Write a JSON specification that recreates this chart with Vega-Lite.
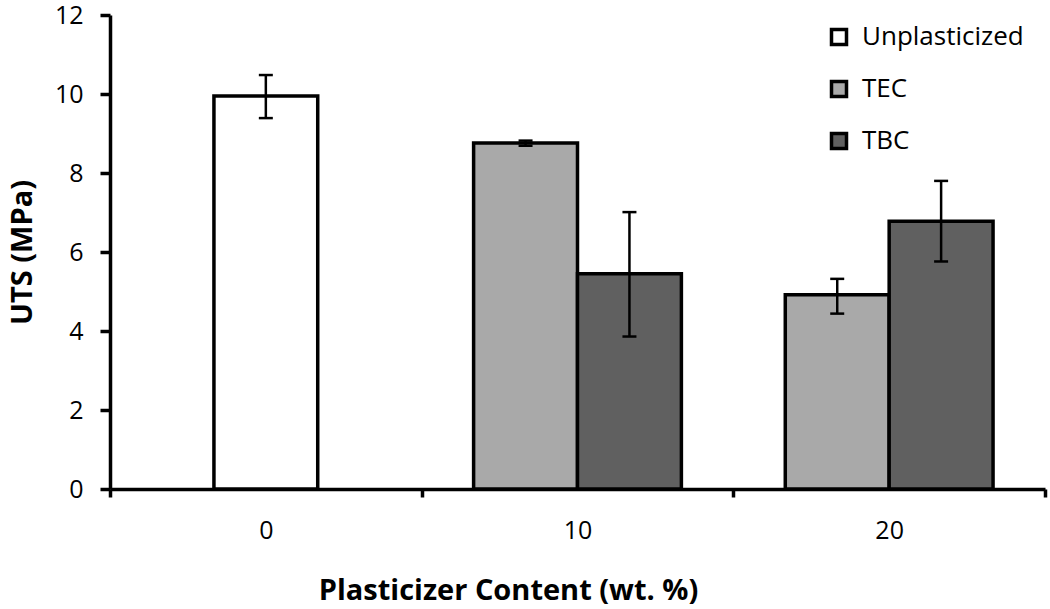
{
  "$schema": "https://vega.github.io/schema/vega-lite/v6.json",
  "autosize": {"type": "none"},
  "padding": {"left": 110, "top": 15, "right": 5, "bottom": 120},
  "width": 935,
  "height": 474,
  "background": "white",
  "config": {
    "view": {"stroke": null},
    "font": "Open Sans",
    "axis": {
      "grid": false,
      "domainColor": "black",
      "domainWidth": 3.5,
      "tickColor": "black",
      "tickWidth": 3.5,
      "labelColor": "black",
      "titleColor": "black",
      "labelFont": "Open Sans",
      "titleFont": "Open Sans",
      "labelFontSize": 25,
      "titleFontSize": 29,
      "titleFontWeight": "bold"
    }
  },
  "data": {
    "values": [
      {"content": "0", "series": "Unplasticized", "uts": 9.95, "lo": 9.39, "hi": 10.48},
      {"content": "10", "series": "TEC", "uts": 8.76, "lo": 8.69, "hi": 8.82},
      {"content": "10", "series": "TBC", "uts": 5.45, "lo": 3.86, "hi": 7.01},
      {"content": "20", "series": "TEC", "uts": 4.92, "lo": 4.44, "hi": 5.32},
      {"content": "20", "series": "TBC", "uts": 6.78, "lo": 5.76, "hi": 7.8}
    ]
  },
  "encoding": {
    "x": {
      "field": "content",
      "type": "nominal",
      "sort": ["0", "10", "20"],
      "scale": {"paddingInner": 0, "paddingOuter": 0},
      "axis": {
        "title": "Plasticizer Content (wt. %)",
        "labelAngle": 0,
        "tickBand": "extent",
        "tickSize": 8,
        "labelPadding": 21,
        "titlePadding": 33,
        "titleX": 398,
        "titleAnchor": null
      }
    }
  },
  "layer": [
    {
      "transform": [{"filter": "datum.series === 'Unplasticized'"}],
      "layer": [
        {
          "mark": {"type": "bar", "width": {"band": 0.333}, "stroke": "black", "strokeWidth": 3.5},
          "encoding": {
            "y": {
              "field": "uts",
              "type": "quantitative",
              "scale": {"domain": [0, 12], "nice": false},
              "axis": {"title": "UTS (MPa)", "values": [0, 2, 4, 6, 8, 10, 12], "tickSize": 10, "labelPadding": 17, "titlePadding": 17}
            },
            "color": {
              "field": "series",
              "type": "nominal",
              "scale": {"domain": ["Unplasticized", "TEC", "TBC"], "range": ["#ffffff", "#a9a9a9", "#606060"]},
              "legend": {
                "title": null,
                "orient": "none",
                "legendX": 716,
                "legendY": 9,
                "symbolType": "square",
                "symbolSize": 225,
                "symbolStrokeColor": "black",
                "symbolStrokeWidth": 3.5,
                "symbolOpacity": 1,
                "labelFont": "Open Sans",
                "labelFontSize": 26,
                "labelColor": "black",
                "labelOffset": 10,
                "labelLimit": 0,
                "rowPadding": 22
              }
            }
          }
        },
        {
          "mark": {"type": "rule", "color": "black", "strokeWidth": 2.5},
          "encoding": {
            "y": {"field": "lo", "type": "quantitative", "title": "UTS (MPa)"},
            "y2": {"field": "hi"}
          }
        },
        {
          "mark": {"type": "tick", "color": "black", "thickness": 2.5, "size": 14, "opacity": 1},
          "encoding": {"y": {"field": "lo", "type": "quantitative", "title": "UTS (MPa)"}}
        },
        {
          "mark": {"type": "tick", "color": "black", "thickness": 2.5, "size": 14, "opacity": 1},
          "encoding": {"y": {"field": "hi", "type": "quantitative", "title": "UTS (MPa)"}}
        }
      ]
    },
    {
      "transform": [{"filter": "datum.series !== 'Unplasticized'"}],
      "encoding": {
        "xOffset": {
          "field": "series",
          "type": "nominal",
          "scale": {"domain": ["TEC", "TBC"], "paddingInner": 0, "paddingOuter": 0.5}
        }
      },
      "layer": [
        {
          "mark": {"type": "bar", "stroke": "black", "strokeWidth": 3.5},
          "encoding": {
            "y": {"field": "uts", "type": "quantitative", "title": "UTS (MPa)"},
            "color": {"field": "series", "type": "nominal"}
          }
        },
        {
          "mark": {"type": "rule", "color": "black", "strokeWidth": 2.5},
          "encoding": {
            "y": {"field": "lo", "type": "quantitative", "title": "UTS (MPa)"},
            "y2": {"field": "hi"}
          }
        },
        {
          "mark": {"type": "tick", "color": "black", "thickness": 2.5, "size": 14, "opacity": 1},
          "encoding": {"y": {"field": "lo", "type": "quantitative", "title": "UTS (MPa)"}}
        },
        {
          "mark": {"type": "tick", "color": "black", "thickness": 2.5, "size": 14, "opacity": 1},
          "encoding": {"y": {"field": "hi", "type": "quantitative", "title": "UTS (MPa)"}}
        }
      ]
    }
  ]
}
